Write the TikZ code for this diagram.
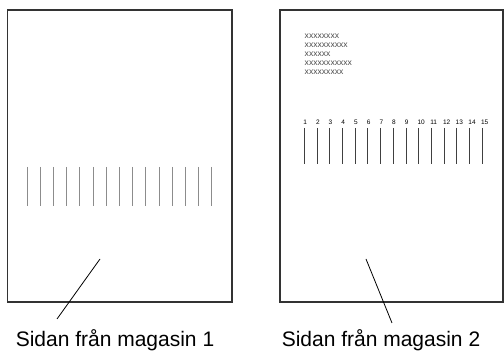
\documentclass[tikz,border=0pt]{standalone}
\usepackage{fontspec}
\setmainfont{Liberation Sans}
\usetikzlibrary{positioning,calc}
\tikzset{
  lap/.style={draw=black!80,line width=1.2pt},
  strek/.style={draw=black!45,line width=0.8pt},
  svart/.style={draw=black!75,line width=0.8pt},
  pek/.style={draw=black,line width=0.8pt},
  rubrik/.style={anchor=base,inner sep=0pt,font=\fontsize{21}{25}\selectfont},
  nr/.style={anchor=south west,inner sep=0pt,font=\fontsize{6.5}{7}\selectfont},
  fyll/.style={anchor=north west,inner sep=0pt,align=left,
    font=\fontsize{8.6}{9}\selectfont,text=black!70},
}

\begin{document}
\begin{tikzpicture}[x=1pt,y=-1pt]
  \useasboundingbox (0,0) rectangle (504,352);
  % sida 1
  \draw[lap] (7.5,10) rectangle (232,302);
  \foreach \i in {0,...,14} \draw[strek] (27+13.2*\i,167) -- (27+13.2*\i,206);
  \coordinate (p1) at (100,259);
  \coordinate (q1) at (57,319);
  \draw[pek] (p1) -- (q1);
  \node[rubrik] (t1) at (115,346.5) {Sidan från magasin 1};
  % sida 2
  \draw[lap] (280,10) rectangle (503,302);
  \node[fyll] (txt) at (304.5,33.5)
    {xxxxxxxx\\ xxxxxxxxxx\\ xxxxxx\\ xxxxxxxxxxx\\ xxxxxxxxx};
  \foreach \i in {1,...,15} {
    \draw[svart] (291.6+12.7*\i,128) -- (291.6+12.7*\i,164);
    \node[nr] (n\i) at (291.6+12.7*\i-1.2,125) {\i};
  }
  \coordinate (p2) at (366,259);
  \coordinate (q2) at (392,323);
  \draw[pek] (p2) -- (q2);
  \node[rubrik] (t2) at (381,346.5) {Sidan från magasin 2};
\end{tikzpicture}
\end{document}
